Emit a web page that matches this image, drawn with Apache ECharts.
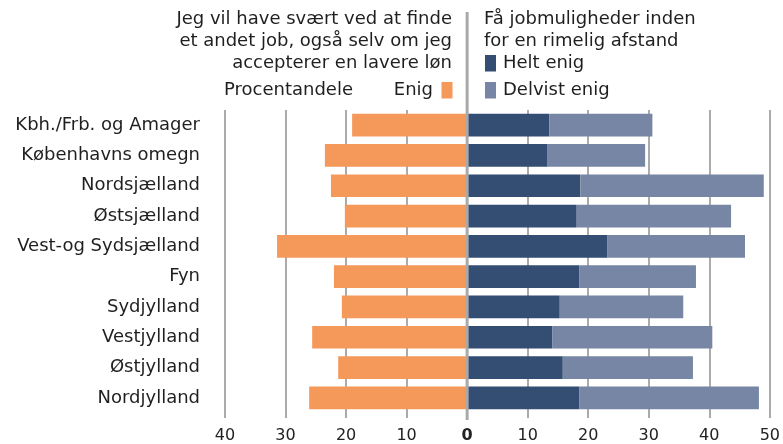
<!DOCTYPE html>
<html>
<head>
<meta charset="utf-8">
<script src="https://cdn.jsdelivr.net/npm/echarts@6/dist/echarts.min.js"></script>
<style>
  html, body { margin: 0; padding: 0; background: #fff; }
  #chart { width: 783px; height: 444px; }
</style>
</head>
<body>
<div id="chart"></div>
<script>
// Regions, top to bottom
const regions = [
  'Kbh./Frb. og Amager', 'Københavns omegn', 'Nordsjælland', 'Østsjælland',
  'Vest-og Sydsjælland', 'Fyn', 'Sydjylland', 'Vestjylland', 'Østjylland', 'Nordjylland'
];
// "Jeg vil have svært ved at finde et andet job ..." – share who agree (%)
const enig = [19.0, 23.5, 22.5, 20.2, 31.4, 22.0, 20.7, 25.6, 21.3, 26.1];
// "Få jobmuligheder inden for en rimelig afstand" – fully agree (%)
const heltEnig = [13.6, 13.3, 18.7, 18.1, 23.2, 18.5, 15.3, 14.1, 15.8, 18.5];
// ... partly agree (%)
const delvistEnig = [17.0, 16.1, 30.3, 25.5, 22.7, 19.3, 20.4, 26.4, 21.5, 29.7];
// Value axis ticks
const axisMin = -40, axisMax = 50, axisStep = 10;

const FONT = 'DejaVu Sans';
const FS = 18;
const TXT = '#1f1f1f';
const C_ENIG = '#F5995B', C_HELT = '#334D73', C_DELV = '#7786A4';
const GRID_C = '#8f8f8f';

const chart = echarts.init(document.getElementById('chart'), null, { renderer: 'canvas' });

const option = {
  animation: false,
  textStyle: { fontFamily: FONT, color: TXT },
  grid: { left: 225, right: 11, top: 110, bottom: 29, containLabel: false },
  xAxis: {
    type: 'value', min: axisMin, max: axisMax, interval: axisStep,
    axisLine: { show: false },
    axisTick: { show: true, length: 5, lineStyle: { color: GRID_C, width: 1.5 } },
    splitLine: { show: true, lineStyle: { color: GRID_C, width: 1.5 } },
    axisLabel: {
      margin: 15, fontSize: 16, color: '#222', fontFamily: 'DejaVu Sans',
      formatter: v => v === 0 ? '{z|0}' : String(Math.abs(v)),
      rich: { z: { fontWeight: 'bold', fontSize: 16, color: '#222', fontFamily: 'DejaVu Sans' } }
    }
  },
  yAxis: {
    type: 'category', data: regions, inverse: true,
    axisLine: { show: false }, axisTick: { show: false },
    axisLabel: { margin: 25, fontSize: FS, color: TXT, fontFamily: FONT, padding: [5, 0, 0, 0] }
  },
  series: [
    { name: 'Enig', type: 'bar', stack: 'all', barCategoryGap: '25%',
      itemStyle: { color: C_ENIG }, data: enig.map(v => -v) },
    { name: 'Helt enig', type: 'bar', stack: 'all',
      itemStyle: { color: C_HELT }, data: heltEnig },
    { name: 'Delvist enig', type: 'bar', stack: 'all',
      itemStyle: { color: C_DELV }, data: delvistEnig }
  ]
};
chart.setOption(option);

// Zero divider running from the header down through the plot, header texts and key
const x0 = chart.convertToPixel({ xAxisIndex: 0 }, 0);
const gridBottom = 444 - 29;
const headStyle = { fontSize: FS, fill: TXT, fontFamily: FONT };
const txt = (extra) => Object.assign({}, headStyle, extra);
chart.setOption({
  graphic: [
    { type: 'line', z: 10, shape: { x1: x0, y1: 12, x2: x0, y2: gridBottom + 5 },
      style: { stroke: '#a9a9a9', lineWidth: 3 } },
    { type: 'text', x: 452, y: 8,
      style: txt({ text: 'Jeg vil have svært ved at finde\net andet job, også selv om jeg\naccepterer en lavere løn',
        align: 'right', lineHeight: 22 }) },
    { type: 'text', x: 484, y: 8,
      style: txt({ text: 'Få jobmuligheder inden\nfor en rimelig afstand', lineHeight: 22 }) },
    { type: 'text', x: 224, y: 90, style: txt({ text: 'Procentandele', verticalAlign: 'middle' }) },
    { type: 'text', x: 433, y: 90, style: txt({ text: 'Enig', align: 'right', verticalAlign: 'middle' }) },
    { type: 'rect', shape: { x: 441.5, y: 82, width: 11, height: 16.5 }, style: { fill: C_ENIG } },
    { type: 'rect', shape: { x: 485, y: 55, width: 11, height: 16.5 }, style: { fill: C_HELT } },
    { type: 'text', x: 503, y: 63, style: txt({ text: 'Helt enig', verticalAlign: 'middle' }) },
    { type: 'rect', shape: { x: 485, y: 82, width: 11, height: 16.5 }, style: { fill: C_DELV } },
    { type: 'text', x: 503, y: 90, style: txt({ text: 'Delvist enig', verticalAlign: 'middle' }) }
  ]
});
</script>
</body>
</html>
